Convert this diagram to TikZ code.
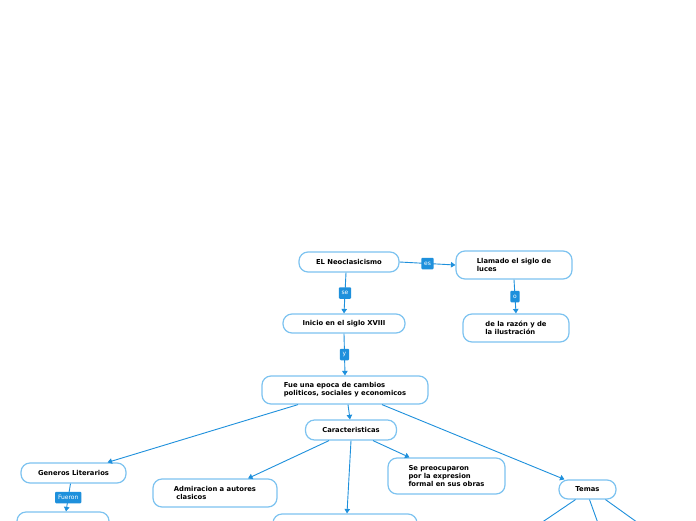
\documentclass[tikz,border=0pt]{standalone}
\usepackage{fontspec}
\setmainfont{DejaVu Sans}
\usetikzlibrary{arrows.meta}
\definecolor{boxline}{RGB}{125,195,240}
\definecolor{conn}{RGB}{30,144,220}
\definecolor{lab}{RGB}{30,144,220}
\begin{document}
\begin{tikzpicture}[x=1pt,y=-1pt,
  box/.style={draw=boxline,line width=1.2pt,rounded corners=9pt,fill=white,
    align=left,font=\fontsize{6.8}{7.9}\selectfont\bfseries,text=black,inner sep=2pt},
  lbl/.style={fill=lab,text=white,font=\fontsize{6}{6}\selectfont,inner xsep=2.8pt,
    inner ysep=0pt,minimum height=11.5pt,rounded corners=1pt},
  conector/.style={draw=conn,line width=0.9pt,-{Triangle[width=5.5pt,length=4.5pt]}},
  plain/.style={draw=conn,line width=0.9pt}]
\useasboundingbox[fill=white] (0,0) rectangle (696,520);

\node[box,minimum width=100pt,minimum height=20pt] (neo) at (349,262) {EL Neoclasicismo};
\node[box,minimum width=116pt,minimum height=28pt] (llamado) at (514,265) {Llamado el siglo de\\luces};
\node[box,minimum width=106pt,minimum height=28pt] (razon) at (516,328) {de la razón y de\\la ilustración};
\node[box,minimum width=122pt,minimum height=19pt] (inicio) at (344,323.5) {Inicio en el siglo XVIII};
\node[box,minimum width=166pt,minimum height=28pt] (fue) at (345,390) {Fue una epoca de cambios\\politicos, sociales y economicos};
\node[box,minimum width=91pt,minimum height=20pt] (car) at (351,430) {Caracteristicas};
\node[box,minimum width=105pt,minimum height=20pt] (gen) at (73.5,473) {Generos Literarios};
\node[box,minimum width=124pt,minimum height=28pt] (adm) at (215,493) {Admiracion a autores\\\ clasicos};
\node[box,minimum width=117pt,minimum height=36pt] (preo) at (446.5,476) {Se preocuparon\\por la expresion\\formal en sus obras};
\node[box,minimum width=57pt,minimum height=19pt] (temas) at (587.5,489.5) {Temas};
\node[box,minimum width=92pt,minimum height=36pt] (bl) at (63,530) {};
\node[box,minimum width=144pt,minimum height=36pt] (bm) at (345,532) {};

\coordinate (t1) at (538,525);
\coordinate (t2) at (599,526);
\coordinate (t3) at (641,525);

\draw[conector] (neo.east) -- (llamado.west) node[lbl,pos=0.5] (les) {es};
\draw[conector] ([xshift=-3pt]neo.south) -- (inicio.north) node[lbl,pos=0.5] (lse) {se};
\draw[conector] (llamado.south) -- (razon.north) node[lbl,pos=0.5] (lo) {o};
\draw[conector] (inicio.south) -- (fue.north) node[lbl,pos=0.5] (ly) {y};
\draw[conector] ([xshift=3pt]fue.south) -- ([xshift=-1pt]car.north);
\draw[conector] ([xshift=-47pt]fue.south) -- ([xshift=34pt]gen.north);
\draw[conector] ([xshift=37pt]fue.south) -- ([xshift=-23pt]temas.north);
\draw[conector] ([xshift=-22pt]car.south) -- ([xshift=33pt]adm.north);
\draw[conector] (car.south) -- ([xshift=2pt]bm.north);
\draw[conector] ([xshift=22pt]car.south) -- ([xshift=-37pt]preo.north);
\draw[conector] ([xshift=-3pt]gen.south) -- ([xshift=3pt]bl.north) node[lbl,pos=0.5] (lfue) {Fueron};
\draw[plain] ([xshift=-12pt]temas.south) -- (t1);
\draw[plain] ([xshift=2pt]temas.south) -- (t2);
\draw[plain] ([xshift=18pt]temas.south) -- (t3);
\end{tikzpicture}
\end{document}
